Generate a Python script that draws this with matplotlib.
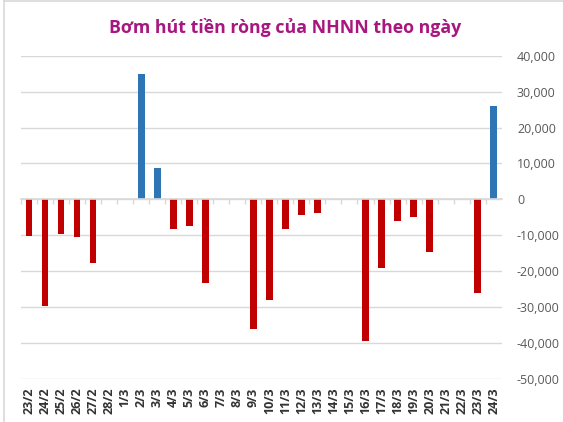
"""Net liquidity injection/withdrawal by the SBV, per day (bar chart)."""
import numpy as np
import matplotlib; matplotlib.use("Agg")
import matplotlib.pyplot as plt
from matplotlib.lines import Line2D
from matplotlib.ticker import FuncFormatter, MultipleLocator

RED, BLUE, GRID, TXT, TITLE = "#c00000", "#2e75b6", "#d9d9d9", "#595959", "#a8167f"
plt.rcParams["font.family"] = ["Open Sans", "DejaVu Sans"]

days = ["23/2", "24/2", "25/2", "26/2", "27/2", "28/2", "1/3", "2/3", "3/3", "4/3",
        "5/3", "6/3", "7/3", "8/3", "9/3", "10/3", "11/3", "12/3", "13/3", "14/3",
        "15/3", "16/3", "17/3", "18/3", "19/3", "20/3", "21/3", "22/3", "23/3", "24/3"]
net = [-10200, -29700, -9700, -10500, -17700, 0, 0, 34900, 8700, -8300,
       -7400, -23300, 0, 0, -36100, -28000, -8300, -4400, -3800, 0,
       0, -39500, -19100, -6000, -4900, -14700, 0, 0, -26100, 26100]

x = np.arange(len(days))
vals = np.array(net, dtype=float)
cols = [BLUE if v > 0 else RED for v in vals]

fig = plt.figure(figsize=(5.63, 4.22), dpi=100)
ax = fig.add_axes([21 / 563, 1 - 379 / 422, (501.7 - 21) / 563, (379 - 55.7) / 422])

ax.bar(x, vals, width=0.42, color=cols, zorder=3)
ax.set_xlim(-0.5, len(days) - 0.5)
ax.set_ylim(-50000, 40000)
ax.yaxis.set_major_locator(MultipleLocator(10000))
ax.yaxis.set_major_formatter(FuncFormatter(lambda v, _: f"{v:,.0f}"))
ax.yaxis.tick_right()
ax.tick_params(axis="y", length=0, pad=11, labelsize=9, labelcolor=TXT)
ax.grid(axis="y", color=GRID, lw=1, zorder=0)
ax.set_axisbelow(True)
for sp in ["top", "right", "left"]:
    ax.spines[sp].set_visible(False)

# horizontal axis line at zero with tick marks between categories
ax.spines["bottom"].set_position(("data", 0))
ax.spines["bottom"].set_color(GRID)
ax.spines["bottom"].set_linewidth(1.2)
ax.spines["bottom"].set_zorder(4)
ax.set_xticks(x - 0.5, labels=[""] * len(days))
ax.tick_params(axis="x", which="major", direction="out", length=3.5, width=1, color=GRID)

# category labels at the bottom
sec = ax.secondary_xaxis("bottom")
sec.set_xticks(x, labels=days)
sec.tick_params(length=0, pad=6, labelsize=9, labelrotation=90)
for lab in sec.get_xticklabels():
    lab.set_fontweight("bold")
    lab.set_color("#333333")
sec.spines["bottom"].set_visible(False)

fig.text(285 / 563, 1 - 33 / 422, "Bơm hút tiền ròng của NHNN theo ngày", ha="center",
         va="baseline", fontsize=12.8, fontweight="bold", color=TITLE)

# chart frame
fig.add_artist(Line2D([4 / 563, 4 / 563], [0, 1], color=GRID, lw=1.2))
fig.add_artist(Line2D([4 / 563, 1], [1 - 1 / 422, 1 - 1 / 422], color=GRID, lw=1.2))

fig.savefig("out.png", dpi=100, facecolor="white")
